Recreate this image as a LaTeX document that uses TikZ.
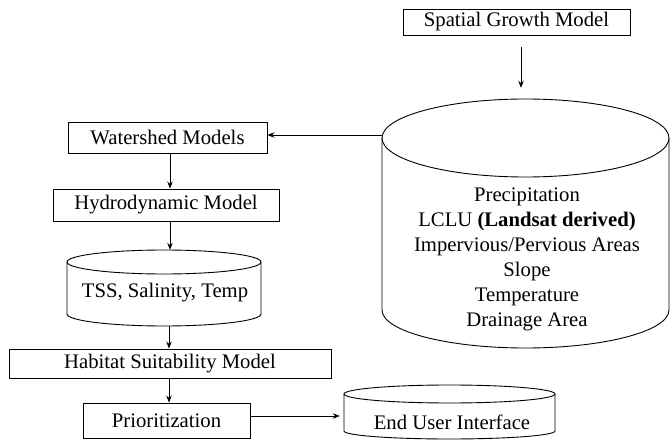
\documentclass[tikz,border=0pt]{standalone}
\usepackage{fontspec}
\setmainfont{Liberation Serif}
\usetikzlibrary{arrows.meta}
\begin{document}
\begin{tikzpicture}[x=1pt,y=-1pt,
  every node/.style={font=\fontsize{20.7}{25}\selectfont, inner sep=0pt},
  box/.style={draw, line width=0.9pt, rectangle},
  cyl/.style={draw, line width=0.9pt},
  arr/.style={draw, line width=0.9pt, -{Stealth[length=7pt,width=5.5pt]}}]
\useasboundingbox (0,0) rectangle (670,441);
% boxes
\node[box, minimum width=227pt, minimum height=26pt] (sgm) at (516.5,22) {Spatial Growth Model};
\node[box, minimum width=199pt, minimum height=31pt] (ws) at (167.5,137.5) {Watershed Models};
\node[box, minimum width=226pt, minimum height=32pt] (hd) at (166,205) {Hydrodynamic Model};
\node[box, minimum width=322pt, minimum height=29pt] (hs) at (170,363.5) {Habitat Suitability Model};
\node[box, minimum width=167pt, minimum height=35pt] (pr) at (166.5,420.5) {Prioritization};
% big cylinder
\node[minimum width=287pt, minimum height=249pt] (big) at (525.5,223.5) {};
\draw[cyl] (382,138) -- (382,310) arc[start angle=180, end angle=0, x radius=143.5, y radius=38] -- (669,138);
\draw[cyl] (525.5,138) ellipse[x radius=143.5, y radius=39];
\node[align=center] (bigtxt) at (527,259.5) {Precipitation\\LCLU \textbf{(Landsat derived)}\\Impervious/Pervious Areas\\Slope\\Temperature\\Drainage Area};
% TSS cylinder
\node[minimum width=194pt, minimum height=76pt] (tss) at (164,288) {};
\draw[cyl] (67,262) -- (67,314) arc[start angle=180, end angle=0, x radius=97, y radius=12] -- (261,262);
\draw[cyl] (164,262) ellipse[x radius=97, y radius=12];
\node (tsstxt) at (165,293) {TSS, Salinity, Temp};
% EUI cylinder
\node[minimum width=211pt, minimum height=54pt] (eui) at (449.5,412) {};
\draw[cyl] (344,394) -- (344,431) arc[start angle=180, end angle=0, x radius=105.5, y radius=8] -- (555,394);
\draw[cyl] (449.5,394) ellipse[x radius=105.5, y radius=9];
\node (euitxt) at (452,422) {End User Interface};
% connectors
\coordinate (xa) at (170,0);
\coordinate (xb) at (169,0);
\coordinate (xs) at (521,0);
\coordinate (ya) at (0,135);
\coordinate (yb) at (0,416);
\draw[arr, shorten <=12pt, shorten >=11pt] (sgm.south -| xs) -- (big.north -| xs);
\draw[arr] (big.west |- ya) -- (ws.east |- ya);
\draw[arr] (ws.south -| xa) -- (hd.north -| xa);
\draw[arr] (hd.south -| xa) -- (tss.north -| xa);
\draw[arr] (tss.south -| xb) -- (hs.north -| xb);
\draw[arr] (hs.south -| xb) -- (pr.north -| xb);
\draw[arr, shorten >=4pt] (pr.east |- yb) -- (eui.west |- yb);
\end{tikzpicture}
\end{document}
